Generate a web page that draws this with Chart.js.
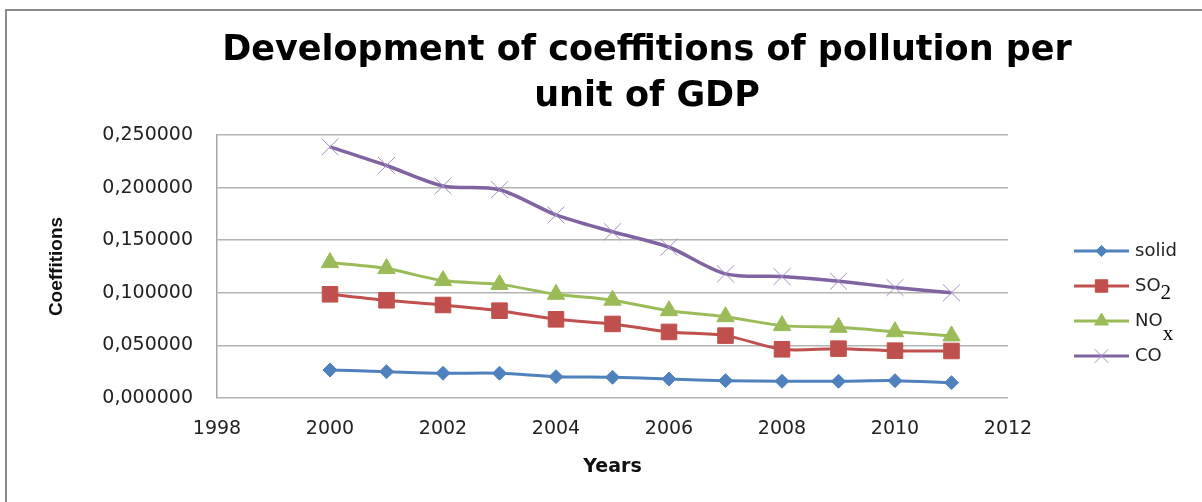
<!DOCTYPE html>
<html>
<head>
<meta charset="utf-8">
<script src="https://cdn.jsdelivr.net/npm/chart.js@4/dist/chart.umd.min.js"></script>
<style>
    body { margin: 0; background: #fff; overflow: hidden; }
    #wrap { position: relative; width: 1202px; height: 502px; }
    #frame { position: absolute; left: 5px; top: 9px; width: 1300px; height: 600px;
             border-left: 2px solid #8a8a8a; border-top: 2px solid #8a8a8a; }
    #chart { position: absolute; left: 0; top: 0; }
</style>
</head>
<body>
<div id="wrap">
    <div id="frame"></div>
    <canvas id="chart" width="1202" height="502"></canvas>
</div>
<script>
const years = [2000, 2001, 2002, 2003, 2004, 2005, 2006, 2007, 2008, 2009, 2010, 2011];
const solid = [0.0266, 0.0250, 0.0235, 0.0235, 0.0203, 0.0197, 0.0180, 0.0165, 0.0159, 0.0159, 0.0165, 0.0146];
const so2 = [0.0986, 0.0929, 0.0884, 0.0830, 0.0748, 0.0704, 0.0628, 0.0593, 0.0463, 0.0469, 0.0450, 0.0447];
const nox = [0.1287, 0.1230, 0.1116, 0.1080, 0.0986, 0.0930, 0.0830, 0.0773, 0.0688, 0.0672, 0.0630, 0.0590];
const co = [0.2387, 0.2210, 0.2016, 0.1980, 0.1740, 0.1580, 0.1433, 0.1180, 0.1154, 0.1110, 0.1050, 0.1000];

const seriesNames = ['solid', 'SO2', 'NOx', 'CO'];
const legendText = ['solid', 'SO', 'NO', 'CO'];
const legendSub = ['', '2', 'x', ''];
const titleLines = ['Development of coeffitions of pollution per', 'unit of GDP'];

const styles = [
    { color: '#4f81bd', marker: '#4f81bd', shape: 'rectRot', r: 7 },
    { color: '#c0504d', marker: '#c0504d', shape: 'rect', r: 11 },
    { color: '#9bbb59', marker: '#9bbb59', shape: 'triangle', r: 10 },
    { color: '#8064a2', marker: '#a48fc6', shape: 'crossRot', r: 12 }
];

function pts(vals) {
    return years.map((y, i) => ({ x: y, y: vals[i] }));
}

// small icon: line with the marker in the middle, used in the legend
function legendIcon(st) {
    const c = document.createElement('canvas');
    c.width = 55; c.height = 22;
    const g = c.getContext('2d');
    g.strokeStyle = st.color;
    g.lineWidth = 3;
    g.beginPath(); g.moveTo(0, 11); g.lineTo(55, 11); g.stroke();
    g.fillStyle = st.marker;
    g.strokeStyle = st.marker;
    g.lineWidth = 1;
    Chart.helpers.drawPoint(g, { pointStyle: st.shape, radius: st.r * 0.8, rotation: 0, borderWidth: 1 }, 27.5, 11);
    return c;
}

const icons = styles.map(legendIcon);

const place = {
    id: 'place',
    afterLayout(chart) {
        const t = chart.titleBlock;
        const dx = 647 - (t.left + t.right) / 2;
        t.left += dx; t.right += dx;
        const lg = chart.legend;
        const w = lg.width, h = lg.height;
        lg.left = 1060; lg.right = 1060 + w;
        lg.top = 225; lg.bottom = 225 + h;
    },
    afterDraw(chart) {
        const lg = chart.legend;
        const ctx = chart.ctx;
        const opts = lg.options.labels;
        const x0 = lg.left + opts.padding + opts.pointStyleWidth + 9;
        legendSub.forEach((s, i) => {
            if (!s) return;
            const cy = lg.top + opts.padding + 9 + i * 35;
            ctx.save();
            ctx.font = '18px "DejaVu Sans"';
            const w = ctx.measureText(legendText[i]).width;
            ctx.font = '21px "Liberation Serif"';
            ctx.fillStyle = '#000';
            ctx.textBaseline = 'middle';
            ctx.fillText(s, x0 + w, cy + (s === 'x' ? 13 : 7));
            ctx.restore();
        });
    }
};

const ctx = document.getElementById('chart').getContext('2d');
new Chart(ctx, {
    type: 'line',
    data: {
        datasets: [solid, so2, nox, co].map((vals, i) => ({
            label: seriesNames[i],
            data: pts(vals),
            borderColor: styles[i].color,
            backgroundColor: styles[i].marker,
            pointBackgroundColor: styles[i].marker,
            pointBorderColor: styles[i].marker,
            pointStyle: styles[i].shape,
            pointRadius: styles[i].r,
            pointBorderWidth: 1,
            borderWidth: i === 3 ? 3.5 : 3,
            tension: 0.3,
            fill: false
        }))
    },
    options: {
        responsive: false,
        animation: false,
        devicePixelRatio: 1,
        layout: { padding: { left: 0, right: 194, top: 0, bottom: 0 } },
        plugins: {
            title: {
                display: true,
                text: titleLines,
                color: '#000',
                font: { family: 'DejaVu Sans', size: 35, weight: 'bold', lineHeight: 1.32 },
                padding: { top: 28, bottom: 14.6 }
            },
            legend: {
                position: 'chartArea',
                align: 'start',
                labels: {
                    usePointStyle: true,
                    pointStyleWidth: 49,
                    padding: 17,
                    color: '#222',
                    font: { family: 'DejaVu Sans', size: 18 },
                    generateLabels: (chart) => chart.data.datasets.map((ds, i) => ({
                        text: legendText[i],
                        pointStyle: icons[i],
                        fillStyle: ds.borderColor,
                        strokeStyle: ds.borderColor,
                        lineWidth: 0,
                        fontColor: '#222',
                        datasetIndex: i,
                        hidden: false
                    }))
                }
            },
            tooltip: { enabled: false }
        },
        scales: {
            x: {
                type: 'linear',
                min: 1998,
                max: 2012,
                afterFit: (s) => { s.height = 104; },
                ticks: {
                    stepSize: 2,
                    padding: 20,
                    color: '#222',
                    font: { family: 'DejaVu Sans', size: 19 },
                    callback: (v) => String(v)
                },
                grid: { display: false, drawTicks: false },
                border: { display: false },
                title: {
                    display: true,
                    text: 'Years',
                    color: '#111',
                    font: { family: 'DejaVu Sans', size: 19, weight: 'bold' },
                    padding: { top: 0, bottom: 24 }
                }
            },
            y: {
                min: 0,
                max: 0.25,
                afterFit: (s) => { s.width = 217; },
                ticks: {
                    stepSize: 0.05,
                    padding: 24,
                    color: '#222',
                    font: { family: 'DejaVu Sans', size: 19 },
                    callback: (v) => v.toFixed(6).replace('.', ',')
                },
                grid: { color: '#b3b3b3', lineWidth: 1.5, drawTicks: false },
                border: { color: '#a6a6a6', width: 1.5 },
                title: {
                    display: true,
                    text: 'Coeffitions',
                    color: '#111',
                    font: { family: "'Liberation Sans'", size: 19, weight: 'bold' },
                    padding: { top: 45, bottom: 0 }
                }
            }
        }
    },
    plugins: [place]
});
</script>
</body>
</html>
